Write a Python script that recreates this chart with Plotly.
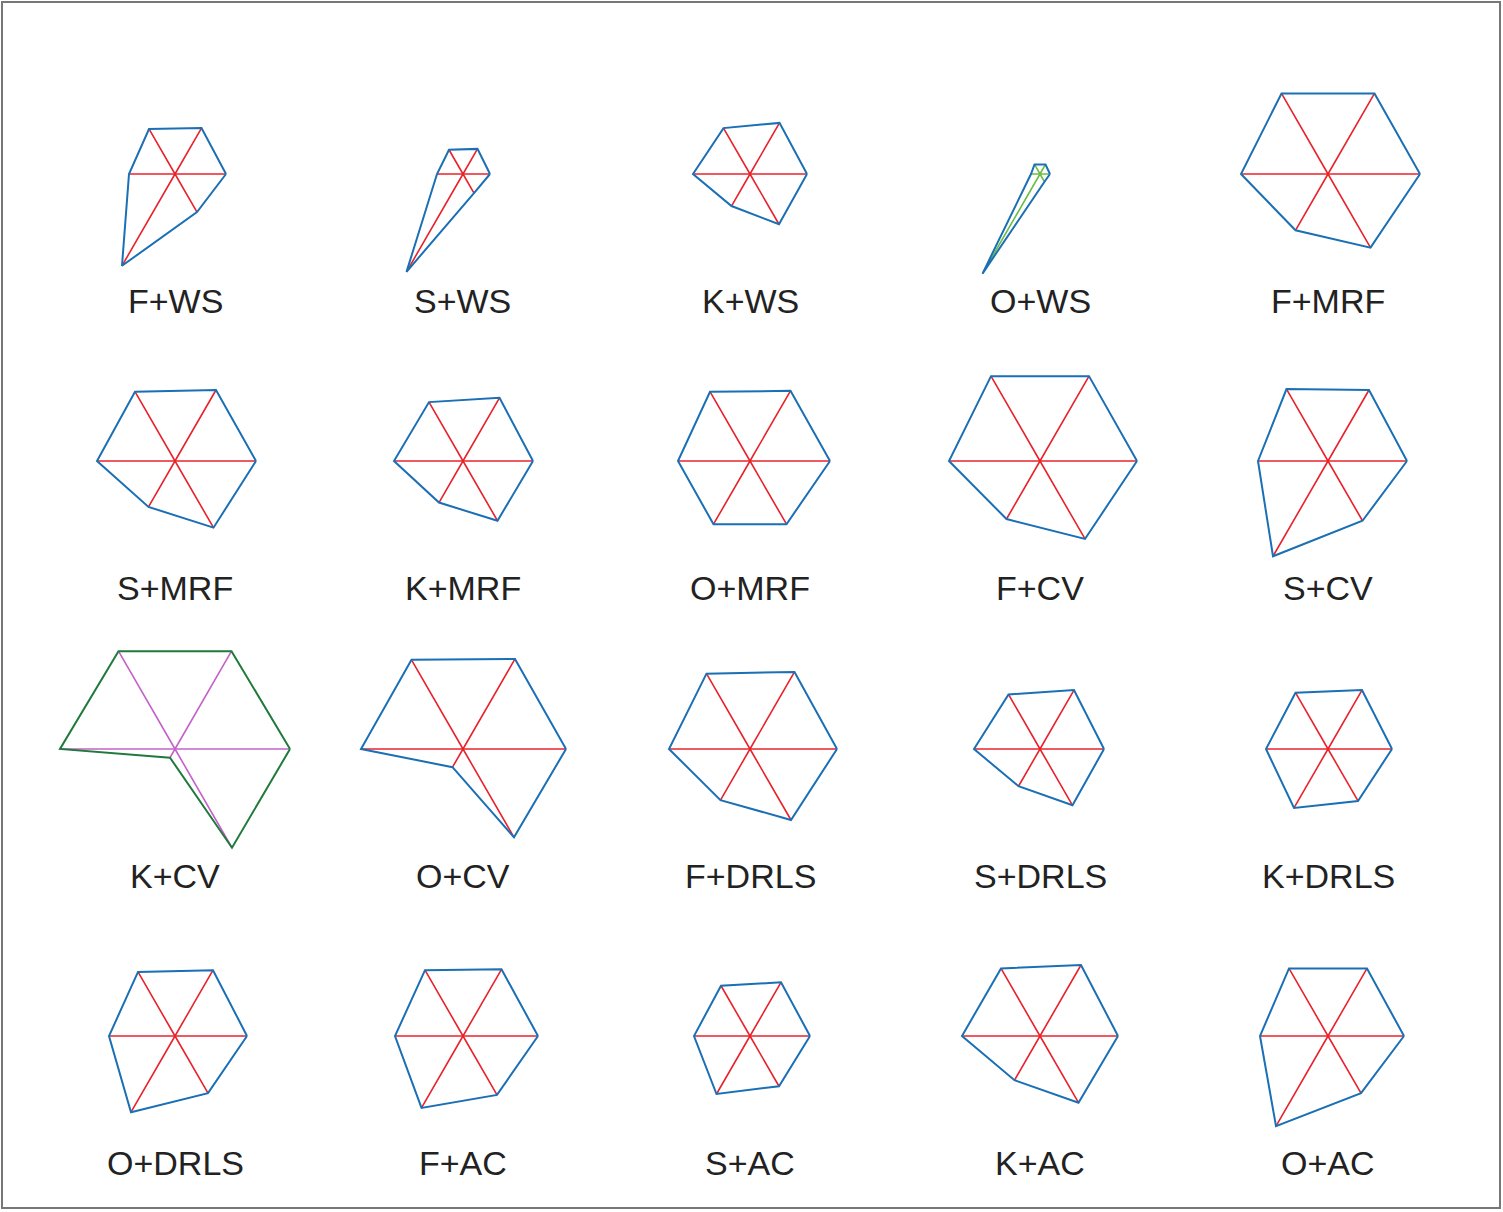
import plotly.graph_objects as go

W, H = 1503, 1212

# labels of the 20 star plots, row by row
labels = ["F+WS", "S+WS", "K+WS", "O+WS", "F+MRF",
          "S+MRF", "K+MRF", "O+MRF", "F+CV", "S+CV",
          "K+CV", "O+CV", "F+DRLS", "S+DRLS", "K+DRLS",
          "O+DRLS", "F+AC", "S+AC", "K+AC", "O+AC"]

# spoke directions (degrees, counterclockwise from the right)
angles = [0, 60, 120, 180, 240, 300]

# radius on each spoke, one value per plot
r_000 = [51, 27, 57, 10, 92, 81, 70, 80, 97, 79, 115, 103, 87, 64, 64, 72, 75, 60, 78, 76]
r_060 = [53, 29, 59, 11, 93, 82, 73, 81, 98, 82, 113, 104, 89, 68, 68, 76, 77, 62, 82, 78]
r_120 = [52, 28, 53, 11, 93, 80, 68, 80, 98, 83, 113, 103, 87, 63, 65, 74, 76, 58, 78, 78]
r_180 = [46, 26, 57, 9, 87, 78, 69, 72, 91, 70, 115, 102, 81, 66, 62, 66, 68, 56, 78, 68]
r_240 = [106, 113, 37, 115, 65, 53, 48, 73, 67, 110, 10, 21, 59, 43, 68, 88, 83, 67, 51, 104]
r_300 = [44, 22, 58, 9, 85, 77, 69, 73, 90, 69, 114, 102, 82, 65, 60, 66, 68, 58, 77, 66]

col_x = [175, 463, 750, 1040, 1328]
row_y = [174, 461, 749, 1036]
half = 120  # pixel half-size of each polar domain (= radial range max)

outline_col = {"O+WS": "#1a6fb5", "K+CV": "#1f7a3c"}
spoke_col = {"O+WS": "#6cbd45", "K+CV": "#c462c9"}

fig = go.Figure()
layout = {}
annotations = []

for i, name in enumerate(labels):
    rr = [r_000[i], r_060[i], r_120[i], r_180[i], r_240[i], r_300[i]]
    cx = col_x[i % 5]
    cy = row_y[i // 5]
    key = "polar" if i == 0 else f"polar{i + 1}"
    sub = key

    layout[key] = dict(
        domain=dict(x=[(cx - half) / W, (cx + half) / W],
                    y=[1 - (cy + half) / H, 1 - (cy - half) / H]),
        bgcolor="rgba(0,0,0,0)",
        radialaxis=dict(range=[0, half], visible=False),
        angularaxis=dict(visible=False, rotation=0, direction="counterclockwise"),
    )

    # spokes: three lines through the centre
    sr, st = [], []
    for k in range(3):
        sr += [rr[k], 0, rr[k + 3], None]
        st += [angles[k], angles[k], angles[k + 3], None]
    fig.add_trace(go.Scatterpolar(
        r=sr, theta=st, mode="lines", subplot=sub, connectgaps=False,
        line=dict(color=spoke_col.get(name, "#e8232b"), width=1.6),
        hoverinfo="skip", showlegend=False))

    # outline polygon
    fig.add_trace(go.Scatterpolar(
        r=rr + [rr[0]], theta=angles + [angles[0]], mode="lines", subplot=sub,
        line=dict(color=outline_col.get(name, "#1a6fb5"), width=2),
        hoverinfo="skip", showlegend=False))

    annotations.append(dict(
        text=name, x=cx / W, y=1 - (cy + 127) / H, xref="paper", yref="paper",
        xanchor="center", yanchor="middle", showarrow=False,
        font=dict(family="Liberation Sans, Arial", size=34, color="#222222")))

fig.update_layout(
    **layout,
    width=W, height=H,
    margin=dict(l=0, r=0, t=0, b=0),
    paper_bgcolor="white",
    plot_bgcolor="white",
    annotations=annotations,
    shapes=[dict(type="rect", xref="paper", yref="paper",
                 x0=2 / W, x1=1 - 3 / W, y0=4 / H, y1=1 - 2 / H,
                 line=dict(color="#777777", width=2))],
)

# page body has a default 8px margin; drop it so the figure sits at (0, 0)
fig.write_html("out.html", config={"displayModeBar": False},
               post_script="document.body.style.margin='0';")
